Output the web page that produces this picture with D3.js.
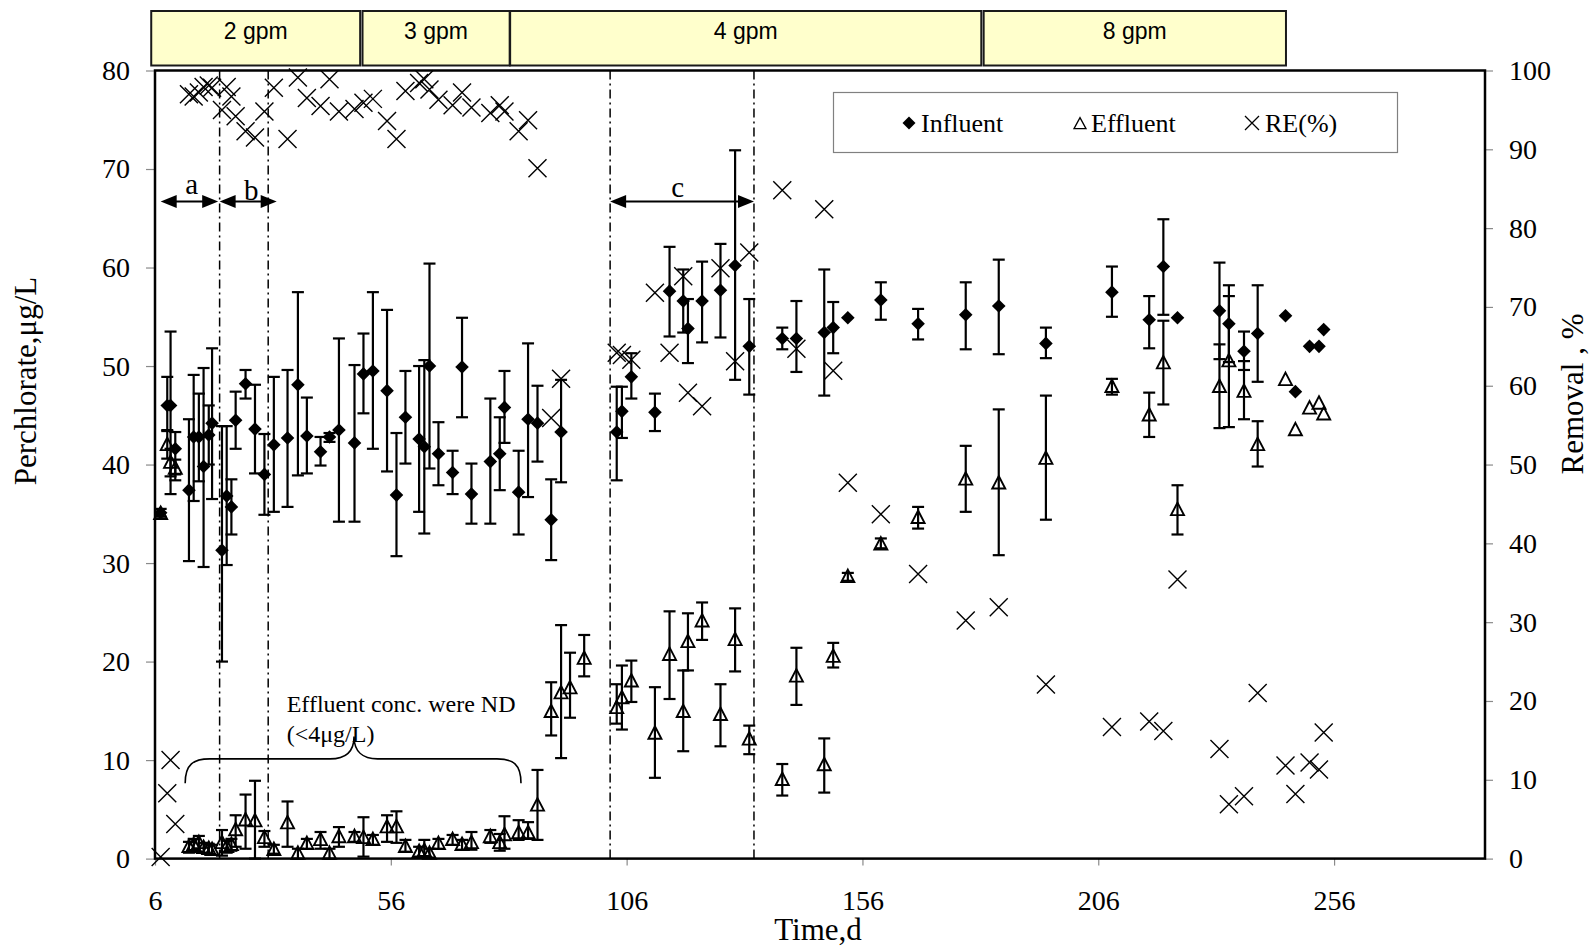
<!DOCTYPE html>
<html>
<head>
<meta charset="utf-8">
<script src="https://cdn.jsdelivr.net/npm/d3@7/dist/d3.min.js"></script>
<style>
  body { margin: 0; background: #fff; }
  svg { display: block; }
  .serif { font-family: "Liberation Serif", "Times New Roman", serif; }
  .sans { font-family: "Liberation Sans", Arial, sans-serif; }
</style>
</head>
<body>
<svg id="chart" width="1593" height="946"></svg>
<script>
// Sampling days
const days = [7.2, 8.6, 9.3, 10.3, 13.2, 14.2, 15.3, 16.3, 17.4, 18.1,
  20.2, 21.2, 22.2, 23.1, 25.2, 27.2, 29.2, 31.2, 34.1, 36.3,
  38.2, 41.1, 43.0, 45.0, 48.3, 50.2, 52.2, 55.2, 57.2, 59.1,
  62.0, 63.1, 64.2, 66.1, 69.1, 71.1, 73.1, 77.1, 79.1, 80.1,
  83.1, 85.1, 87.1, 90.0, 92.1, 94.0, 97.0, 103.9, 105.0, 107.0,
  112.0, 115.1, 118.0, 119.0, 122.0, 125.9, 129.0, 132.0, 139.0, 142.0,
  147.9, 149.8, 152.9, 159.9, 167.8, 177.9, 184.9, 194.9, 208.9, 216.8,
  219.8, 222.8, 231.7, 233.7, 236.9, 239.8, 245.7, 247.8, 250.8, 252.8, 253.8];

// Influent perchlorate (µg/L) with error-bar limits
const influent = [35.1, 46.0, 46.0, 41.6, 37.4, 42.8, 42.8, 39.8, 43.0, 44.2,
  31.3, 36.8, 35.7, 44.5, 48.2, 43.6, 39.0, 42.0, 42.7, 48.1,
  42.9, 41.3, 42.8, 43.5, 42.2, 49.2, 49.5, 47.5, 36.9, 44.8,
  42.6, 41.8, 50.0, 41.1, 39.2, 49.9, 37.0, 40.3, 41.1, 45.8,
  37.2, 44.6, 44.2, 34.4, 43.3, null, null, 43.3, 45.4, 48.9,
  45.3, 57.6, 56.6, 53.8, 56.6, 57.7, 60.2, 52.0, 52.8, 52.8,
  53.4, 53.9, 54.9, 56.7, 54.3, 55.2, 56.1, 52.3, 57.5, 54.7,
  60.1, 54.9, 55.6, 54.3, 51.5, 53.3, 55.1, 47.4, 52.0, 52.0, 53.7];
const influentHi = [35.5, 48.9, 53.5, 43.3, 44.6, 49.1, 47.2, 49.8, 46.0, 51.8,
  43.9, 43.9, 38.5, 47.4, 49.6, 48.1, 43.1, 48.9, 49.6, 57.5,
  46.8, 42.8, 43.2, 52.8, 50.1, 53.3, 57.5, 55.7, 43.2, 49.5,
  50.0, 50.6, 60.4, 44.3, 41.4, 54.9, 40.1, 46.7, 44.8, 49.5,
  41.4, 52.3, 48.0, 38.5, 48.6, null, null, 47.9, 47.9, 51.3,
  47.2, 62.1, 59.8, 56.8, 60.6, 62.4, 71.9, 56.8, 53.9, 56.6,
  59.8, 56.5, null, 58.5, 55.8, 58.5, 60.8, 53.9, 60.1, 57.1,
  64.9, null, 60.5, 58.2, 53.5, 58.2, null, null, null, null, null];
const influentLo = [34.7, 43.5, 37.0, 39.0, 30.2, 36.3, 38.3, 29.6, 40.0, 36.5,
  20.0, 29.8, 32.9, 41.6, 46.7, 39.1, 34.9, 35.2, 35.7, 38.9,
  39.1, 39.9, 42.3, 34.2, 34.2, 45.2, 41.6, 39.3, 30.7, 40.1,
  35.2, 33.0, 39.6, 37.9, 37.0, 44.8, 34.0, 34.0, 37.4, 42.2,
  32.9, 36.7, 40.3, 30.3, 38.2, null, null, 38.4, 42.7, 46.7,
  43.4, 53.0, 53.4, 50.3, 52.4, 52.9, 48.6, 47.1, 51.7, 49.4,
  47.0, 51.3, null, 54.7, 52.7, 51.7, 51.2, 50.8, 55.0, 51.8,
  55.2, null, 50.7, 50.4, 49.6, 48.4, null, null, null, null, null];

// Effluent perchlorate (µg/L) with error-bar limits
const effluent = [35.0, 42.0, 40.2, 39.6, 1.2, 1.4, 1.6, 1.1, 1.0, 0.9,
  1.6, 1.2, 1.4, 2.9, 3.9, 3.8, 2.1, 0.9, 3.6, 0.5,
  1.5, 1.9, 0.5, 2.2, 2.2, 2.1, 1.9, 3.2, 3.2, 1.2,
  0.7, 0.8, 0.5, 1.5, 1.9, 1.4, 1.6, 2.2, 1.6, 2.4,
  2.6, 2.6, 5.4, 14.9, 16.8, 17.3, 20.3, 15.3, 16.3, 18.0,
  12.7, 20.7, 14.9, 22.0, 24.1, 14.6, 22.2, 12.1, 8.0, 18.5,
  9.5, 20.5, 28.6, 31.9, 34.6, 38.5, 38.1, 40.6, 47.9, 45.0,
  50.3, 35.4, 47.9, 50.5, 47.4, 42.0, 48.6, 43.5, 45.7, 46.2, 45.1];
const effluentHi = [null, 43.4, 41.6, 40.5, 1.7, 2.0, 2.3, 1.6, 1.5, 1.4,
  2.9, 1.8, 2.0, 4.4, 6.5, 7.9, 2.8, 1.4, 5.8, 1.0,
  2.0, 2.7, 1.0, 3.2, 2.7, 4.2, 2.4, 4.4, 4.8, 1.9,
  1.2, 1.9, 1.0, 2.0, 2.4, 1.9, 2.7, 2.9, 2.5, 4.3,
  3.9, 3.7, 9.0, 17.9, 23.7, 20.9, 22.7, 17.7, 19.6, 20.1,
  17.4, 25.1, 19.1, 24.9, 26.0, 17.7, 25.4, 13.5, 9.6, 21.4,
  12.2, 21.9, 29.0, 32.5, 35.7, 41.9, 45.6, 47.0, 48.7, 47.3,
  54.6, 37.9, 52.2, 57.1, 50.5, 44.4, null, null, null, null, null];
const effluentLo = [null, 40.6, 38.8, 38.4, 0.6, 0.8, 0.7, 0.6, 0.5, 0.4,
  0.3, 0.6, 0.8, 1.2, 1.0, 0.0, 1.2, 0.5, 1.2, 0.0,
  1.0, 1.0, 0.0, 1.2, 1.7, 0.2, 1.4, 1.7, 1.6, 0.7,
  0.2, 0.2, 0.1, 1.0, 1.4, 0.9, 0.9, 1.6, 0.8, 1.0,
  1.9, 2.0, 1.9, 12.5, 10.2, 14.3, 18.5, 13.7, 13.1, 15.9,
  8.2, 16.2, 10.9, 19.1, 22.2, 11.4, 19.0, 10.6, 6.4, 15.6,
  6.7, 19.4, 28.2, 31.5, 33.5, 35.2, 30.8, 34.4, 47.1, 42.8,
  46.1, 32.9, 43.7, 43.8, 44.6, 39.8, null, null, null, null, null];

// Removal efficiency (%)
const removal = [0.2, 8.3, 12.5, 4.4, 97.0, 96.7, 97.2, 97.9, 98.1, 97.8,
  95.0, 97.9, 96.7, 94.2, 92.3, 91.5, 94.8, 97.8, 91.3, 99.1,
  96.5, 95.5, 98.9, 94.8, 95.1, 95.9, 96.4, 93.6, 91.3, 97.4,
  98.4, 98.9, 97.6, 96.3, 95.6, 97.2, 95.3, 94.6, 95.6, 94.8,
  92.3, 93.7, 87.6, 55.9, 60.9, null, null, 64.2, 63.9, 63.3,
  71.8, 64.2, 73.9, 59.1, 57.4, 74.9, 63.1, 76.9, 84.8, 64.7,
  82.4, 61.9, 47.7, 43.7, 36.1, 30.2, 31.9, 22.1, 16.7, 17.4,
  16.2, 35.4, 13.9, 6.9, 7.9, 21.0, 11.8, 8.2, 12.2, 11.3, 16.0];

// Axis ticks
const xTicks = [6, 56, 106, 156, 206, 256];
const yLeftTicks = [0, 10, 20, 30, 40, 50, 60, 70, 80];
const yRightTicks = [0, 10, 20, 30, 40, 50, 60, 70, 80, 90, 100];

// Flow-rate phases shown above the plot (day ranges)
const phaseLabels = ["2 gpm", "3 gpm", "4 gpm", "8 gpm"];
const phaseStart = [5.2, 50.0, 81.3, 181.7];
const phaseEnd = [49.5, 81.2, 181.2, 245.8];

// Period boundaries (dash-dot lines) and labelled spans
const boundaryDays = [19.7, 30.0, 102.5, 133.0];
const spanLabels = ["a", "b", "c"];
const spanStart = [7.2, 19.7, 102.5];
const spanEnd = [19.4, 31.8, 133.0];

const svg = d3.select("#chart");
const x = d3.scaleLinear().domain([6, 288]).range([155, 1485]);
const yL = d3.scaleLinear().domain([0, 80]).range([858.6, 70.5]);
const yR = d3.scaleLinear().domain([0, 100]).range([858.6, 70.5]);

const rows = days.map((d, i) => ({
  d, inf: influent[i], infHi: influentHi[i], infLo: influentLo[i],
  eff: effluent[i], effHi: effluentHi[i], effLo: effluentLo[i], re: removal[i]
}));

// Flow-rate boxes
const phases = phaseLabels.map((l, i) => ({ l, s: phaseStart[i], e: phaseEnd[i] }));
const pg = svg.append("g");
pg.selectAll("rect").data(phases).join("rect")
  .attr("x", p => x(p.s)).attr("y", 11)
  .attr("width", p => x(p.e) - x(p.s)).attr("height", 54.5)
  .attr("fill", "#FFFFCC").attr("stroke", "#1a1a1a").attr("stroke-width", 2);
pg.selectAll("text").data(phases).join("text")
  .attr("class", "sans")
  .attr("x", p => (x(p.s) + x(p.e)) / 2).attr("y", 38.5)
  .attr("text-anchor", "middle").attr("font-size", 23).text(p => p.l);

// Axes
function styleAxis(g) {
  g.select(".domain").remove();
  g.selectAll(".tick line").attr("stroke", "#8a8a8a").attr("stroke-width", 1.2);
  g.selectAll(".tick text").attr("class", "serif").attr("font-size", 28).attr("fill", "#000");
}
svg.append("g").attr("transform", "translate(155,0)")
  .call(d3.axisLeft(yL).tickValues(yLeftTicks).tickSize(9).tickPadding(16).tickFormat(d3.format("d")))
  .call(styleAxis);
svg.append("g").attr("transform", "translate(1485,0)")
  .call(d3.axisRight(yR).tickValues(yRightTicks).tickSize(8).tickPadding(16).tickFormat(d3.format("d")))
  .call(styleAxis);
svg.append("g").attr("transform", "translate(0,858.6)")
  .call(d3.axisBottom(x).tickValues(xTicks).tickSize(7).tickPadding(25).tickFormat(d3.format("d")))
  .call(styleAxis);

// Axis titles
svg.append("text").attr("class", "serif").attr("font-size", 31)
  .attr("transform", "translate(36,381) rotate(-90)").attr("text-anchor", "middle")
  .text("Perchlorate,μg/L");
svg.append("text").attr("class", "serif").attr("font-size", 31)
  .attr("transform", "translate(1583,394) rotate(-90)").attr("text-anchor", "middle")
  .text("Removal , %");
svg.append("text").attr("class", "serif").attr("font-size", 31)
  .attr("x", 818).attr("y", 940).attr("text-anchor", "middle").text("Time,d");

// Period boundaries
svg.append("g").selectAll("line").data(boundaryDays).join("line")
  .attr("x1", d => x(d)).attr("x2", d => x(d))
  .attr("y1", yL(80)).attr("y2", yL(0))
  .attr("stroke", "#000").attr("stroke-width", 1.5)
  .attr("stroke-dasharray", "9,4,2,4");

// Span arrows
const arrowY = yL(66.7);
const ag = svg.append("g");
spanLabels.forEach((lab, i) => {
  const x1 = x(spanStart[i]), x2 = x(spanEnd[i]);
  ag.append("line").attr("x1", x1 + 10).attr("x2", x2 - 10)
    .attr("y1", arrowY).attr("y2", arrowY).attr("stroke", "#000").attr("stroke-width", 2);
  ag.append("path").attr("d", `M${x1},${arrowY} L${x1 + 16},${arrowY - 6.5} L${x1 + 16},${arrowY + 6.5} Z`);
  ag.append("path").attr("d", `M${x2},${arrowY} L${x2 - 16},${arrowY - 6.5} L${x2 - 16},${arrowY + 6.5} Z`);
});
const labelPos = [[13.8, 67.45], [26.4, 66.85], [116.8, 67.15]];
ag.selectAll("text").data(spanLabels).join("text")
  .attr("class", "serif").attr("font-size", 29).attr("text-anchor", "middle")
  .attr("x", (d, i) => x(labelPos[i][0])).attr("y", (d, i) => yL(labelPos[i][1]))
  .text(d => d);

// Non-detect brace and note
const bp = d3.path();
bp.moveTo(x(12.4), yL(7.65));
bp.bezierCurveTo(x(12.4), yL(9.6), x(14.2), yL(10.12), x(17.6), yL(10.12));
bp.lineTo(x(43.1), yL(10.12));
bp.bezierCurveTo(x(46.4), yL(10.12), x(48.2), yL(10.9), x(48.2), yL(12.4));
bp.bezierCurveTo(x(48.2), yL(10.9), x(50.0), yL(10.12), x(53.2), yL(10.12));
bp.lineTo(x(78.5), yL(10.12));
bp.bezierCurveTo(x(81.9), yL(10.12), x(83.6), yL(9.6), x(83.6), yL(7.65));
svg.append("path").attr("d", bp.toString()).attr("fill", "none")
  .attr("stroke", "#000").attr("stroke-width", 1.6);
svg.append("text").attr("class", "serif").attr("font-size", 24)
  .attr("x", 286.7).attr("y", 711.7).text("Effluent conc. were ND");
svg.append("text").attr("class", "serif").attr("font-size", 24)
  .attr("x", 286.7).attr("y", 741.7).text("(<4μg/L)");

// Error bars
function errorBars(key, hiKey, loKey, yScale) {
  const g = svg.append("g").attr("stroke", "#000").attr("stroke-width", 2.2);
  const rs = rows.filter(r => r[hiKey] != null && r[loKey] != null);
  g.selectAll("line.v").data(rs).join("line").attr("class", "v")
    .attr("x1", r => x(r.d)).attr("x2", r => x(r.d))
    .attr("y1", r => yScale(r[hiKey])).attr("y2", r => yScale(r[loKey]));
  g.selectAll("line.hi").data(rs).join("line").attr("class", "hi")
    .attr("x1", r => x(r.d) - 6).attr("x2", r => x(r.d) + 6)
    .attr("y1", r => yScale(r[hiKey])).attr("y2", r => yScale(r[hiKey]));
  g.selectAll("line.lo").data(rs).join("line").attr("class", "lo")
    .attr("x1", r => x(r.d) - 6).attr("x2", r => x(r.d) + 6)
    .attr("y1", r => yScale(r[loKey])).attr("y2", r => yScale(r[loKey]));
}

const diamond = s => `M0,${-s} L${s},0 L0,${s} L${-s},0 Z`;
const triangle = (w, h) => `M0,${-h * 0.58} L${w / 2},${h * 0.42} L${-w / 2},${h * 0.42} Z`;
const cross = s => `M${-s},${-s} L${s},${s} M${-s},${s} L${s},${-s}`;

// Influent
errorBars("inf", "infHi", "infLo", yL);
svg.append("g").selectAll("path").data(rows.filter(r => r.inf != null)).join("path")
  .attr("transform", r => `translate(${x(r.d)},${yL(r.inf)})`)
  .attr("d", diamond(6.8)).attr("fill", "#000");

// Effluent
errorBars("eff", "effHi", "effLo", yL);
svg.append("g").selectAll("path").data(rows.filter(r => r.eff != null)).join("path")
  .attr("transform", r => `translate(${x(r.d)},${yL(r.eff)})`)
  .attr("d", triangle(13, 12.5)).attr("fill", "none")
  .attr("stroke", "#000").attr("stroke-width", 1.9).attr("stroke-linejoin", "miter");

// Removal efficiency
svg.append("g").selectAll("path").data(rows.filter(r => r.re != null)).join("path")
  .attr("transform", r => `translate(${x(r.d)},${yR(r.re)})`)
  .attr("d", cross(9)).attr("fill", "none")
  .attr("stroke", "#000").attr("stroke-width", 1.4);

// Plot frame
svg.append("rect").attr("x", 155).attr("y", 70.5)
  .attr("width", 1330).attr("height", 858.6 - 70.5)
  .attr("fill", "none").attr("stroke", "#000").attr("stroke-width", 2.5);

// Legend
const lg = svg.append("g");
lg.append("rect").attr("x", 833.5).attr("y", 92.5).attr("width", 564).attr("height", 60)
  .attr("fill", "#fff").attr("stroke", "#808080").attr("stroke-width", 1.2);
lg.append("path").attr("transform", "translate(909,123)").attr("d", diamond(6.5)).attr("fill", "#000");
lg.append("path").attr("transform", "translate(1080,124)").attr("d", triangle(12, 11))
  .attr("fill", "none").attr("stroke", "#000").attr("stroke-width", 1.3);
lg.append("path").attr("transform", "translate(1252,123)").attr("d", cross(7))
  .attr("fill", "none").attr("stroke", "#000").attr("stroke-width", 1.3);
const legendText = [["Influent", 921], ["Effluent", 1091], ["RE(%)", 1265]];
lg.selectAll("text").data(legendText).join("text")
  .attr("class", "serif").attr("font-size", 26)
  .attr("x", d => d[1]).attr("y", 132).text(d => d[0]);
</script>
</body>
</html>
